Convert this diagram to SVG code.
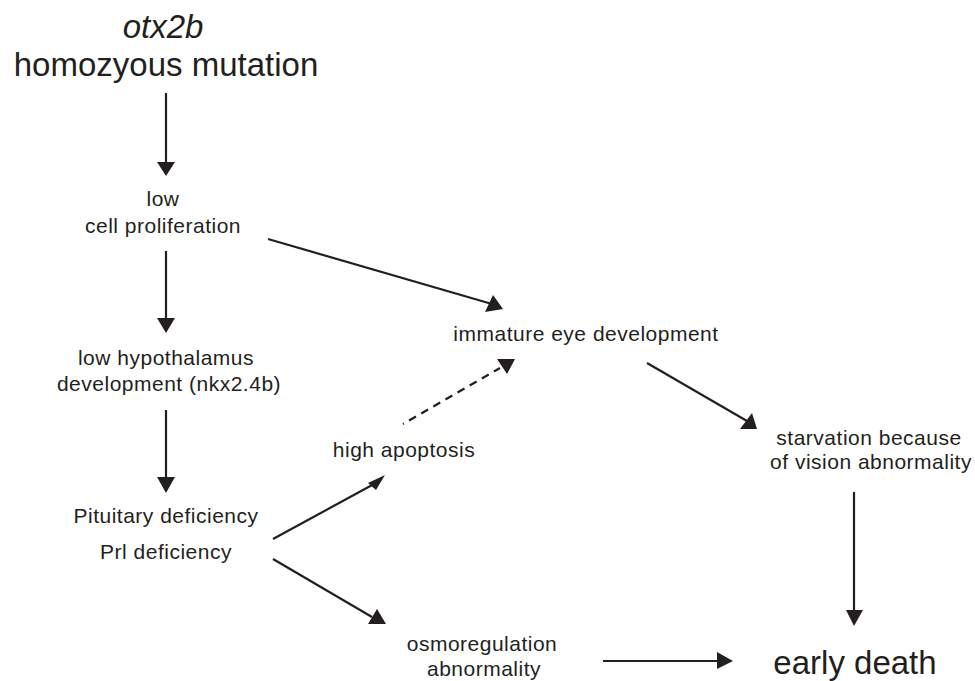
<svg xmlns="http://www.w3.org/2000/svg" width="975" height="681" viewBox="0 0 975 681">
<style>
text{font-family:"Liberation Sans",Arial,sans-serif;fill:#231f20;text-anchor:middle}
.s{font-size:21px;letter-spacing:0.5px}
.b{font-size:33px}
.i{font-style:italic}
.ln{stroke:#231f20;stroke-width:2.2;fill:none}
.d{stroke-dasharray:8 6;stroke-dashoffset:7}
.hd{fill:#231f20;stroke:none}
</style>
<rect width="975" height="681" fill="#fff"/>
<g id="mutation"><text class="b i" x="163" y="38">otx2b</text><text class="b" x="166" y="76">homozyous mutation</text></g>
<g id="prolif"><text class="s" x="163" y="206">low</text><text class="s" x="163" y="233">cell proliferation</text></g>
<g id="hypo"><text class="s" x="166" y="365">low hypothalamus</text><text class="s" x="169" y="391">development (nkx2.4b)</text></g>
<g id="pituitary"><text class="s" x="166" y="523">Pituitary deficiency</text><text class="s" x="166" y="559">Prl deficiency</text></g>
<g id="eye"><text class="s" x="586" y="341">immature eye development</text></g>
<g id="apoptosis"><text class="s" x="404" y="457">high apoptosis</text></g>
<g id="starvation"><text class="s" x="869" y="445">starvation because</text><text class="s" x="871" y="469">of vision abnormality</text></g>
<g id="osmo"><text class="s" x="482" y="651">osmoregulation</text><text class="s" x="484" y="676">abnormality</text></g>
<g id="death"><text class="b" x="855" y="674">early death</text></g>
<g id="connectors">
<line class="ln" x1="166" y1="93" x2="166" y2="163"/><polygon class="hd" points="157,162 175,162 166,176"/>
<line class="ln" x1="166" y1="251" x2="166" y2="319"/><polygon class="hd" points="157,318 175,318 166,333"/>
<line class="ln" x1="166" y1="410" x2="166" y2="478"/><polygon class="hd" points="157,477 175,477 166,493"/>
<line class="ln" x1="268" y1="239" x2="492" y2="304"/><polygon class="hd" points="493,295 503,309 485,312"/>
<line class="ln d" x1="403" y1="424" x2="500" y2="368"/><polygon class="hd" points="497,359 515,359 507,374"/>
<line class="ln" x1="647" y1="363" x2="747" y2="421"/><polygon class="hd" points="740,429 757,429 752,413"/>
<line class="ln" x1="273" y1="539" x2="374" y2="484"/><polygon class="hd" points="385,475 368,483 376,490"/>
<line class="ln" x1="273" y1="559" x2="372" y2="617"/><polygon class="hd" points="368,624 386,624 377,609"/>
<line class="ln" x1="603" y1="661" x2="718" y2="661"/><polygon class="hd" points="717,652 733,661 717,669"/>
<line class="ln" x1="854" y1="492" x2="854" y2="611"/><polygon class="hd" points="846,610 863,610 854,626"/>
</g>
</svg>
